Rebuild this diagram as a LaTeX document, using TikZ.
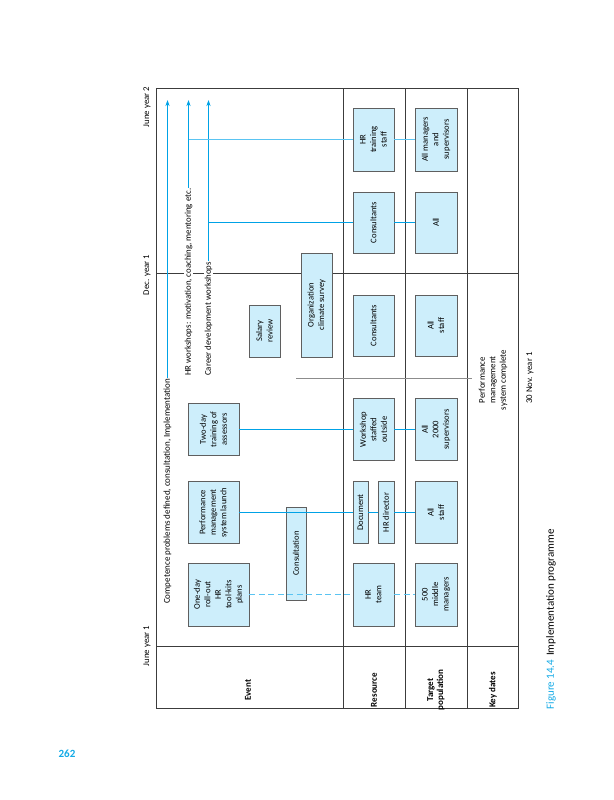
\documentclass[tikz,border=0pt]{standalone}
\usepackage{fontspec}
\setmainfont{Carlito}
\usetikzlibrary{arrows.meta}
\definecolor{lineblue}{RGB}{0,162,230}
\definecolor{lightblue}{RGB}{90,196,242}
\definecolor{boxfill}{RGB}{205,238,251}
\definecolor{boxedge}{RGB}{95,95,95}
\definecolor{tabline}{RGB}{60,60,60}
\definecolor{capblue}{RGB}{20,170,230}
\tikzset{
  box/.style={draw=boxedge, line width=0.9pt, fill=boxfill, rotate=90, inner sep=0pt,
    align=center, font=\fontsize{8.6}{10.5}\selectfont},
  lbl/.style={rotate=90, inner sep=1pt, font=\fontsize{8.8}{10.5}\selectfont},
  head/.style={rotate=90, align=center, font=\bfseries\fontsize{9}{10}\selectfont},
  conn/.style={lineblue, line width=1pt},
  dconn/.style={lightblue, line width=1.2pt, dash pattern=on 6pt off 3.5pt},
  arr/.style={lineblue, line width=1pt, -{Stealth[length=6pt,width=4pt]}},
  tab/.style={tabline, line width=0.8pt}
}
\begin{document}
\begin{tikzpicture}[x=1pt,y=-1pt]
\useasboundingbox (0,0) rectangle (613,800);
% table
\coordinate (tl) at (156,88);
\coordinate (br) at (518,708);
\draw[tab] (tl) rectangle (br);
\draw[tab] (343,88) -- (343,708);
\draw[tab] (405,88) -- (405,708);
\draw[tab] (467,88) -- (467,708);
\draw[tab] (156,646) -- (518,646);
\draw[tabline, line width=1.5pt] (156,273.5) -- (518,273.5);
\draw[gray!90, line width=0.7pt] (296,378.5) -- (472,378.5);
% header labels
\node[head] (hev) at (248,690) {Event};
\node[head] (hres) at (374,690) {Resource};
\node[head] (htar) at (436,690) {Target\\population};
\node[head] (hkey) at (493,690) {Key dates};
% time labels
\node[lbl] (jy1) at (147,646) {June year 1};
\node[lbl] (dy1) at (147,275) {Dec. year 1};
\node[lbl] (jy2) at (147,107) {June year 2};
\node[lbl] (nov) at (530,378) {30 Nov. year 1};
\node[lbl, align=center] (pmsc) at (493,380) {Performance\\management\\system complete};
% arrows with texts
\coordinate (a1) at (167.5,100);
\coordinate (a2) at (188.5,100);
\coordinate (a3) at (208.5,100);
\node[lbl, anchor=west, font=\fontsize{9}{10.5}\selectfont] (t1) at (167.5,605) {Competence problems defined, consultation, Implementation};
\node[lbl, anchor=west, fill=white] (t2) at (188.5,377) {HR workshops: motivation, coaching, mentoring etc.};
\node[lbl, anchor=west, fill=white] (t3) at (208.5,377) {Career development workshops};
\draw[arr] (t1.east) -- (a1);
\draw[arr] (t2.east) -- (a2);
\draw[arr] (t3.east) -- (a3);
\coordinate (b2) at (188.5,139.5);
\coordinate (b3) at (208.5,222.5);
% boxes (minimum width = extent along page y, minimum height = extent along page x)
\node[box, minimum width=63pt, minimum height=61pt] (oneday) at (218.5,594.5) {One-day\\roll-out\\HR\\tool-kits\\plans};
\node[box, minimum width=62pt, minimum height=51pt] (pmsl) at (213.5,512.5) {Performance\\management\\system launch};
\node[box, minimum width=52pt, minimum height=51pt] (twoday) at (213.5,429.5) {Two-day\\training of\\assessors};
\node[box, minimum width=93pt, minimum height=20pt] (consult) at (296,553.5) {Consultation};
\node[box, minimum width=52pt, minimum height=31pt] (salary) at (264.5,331) {Salary\\review};
\node[box, minimum width=104pt, minimum height=31pt] (orgclim) at (316.5,305) {Organization\\climate survey};
\node[box, minimum width=63pt, minimum height=41pt] (hrteam) at (373.5,594.5) {HR\\team};
\node[box, minimum width=62pt, minimum height=15pt] (document) at (360.5,512.5) {Document};
\node[box, minimum width=62pt, minimum height=16pt] (hrdir) at (386,512.5) {HR director};
\node[box, minimum width=62pt, minimum height=41pt] (workshop) at (373.5,429.5) {Workshop\\staffed\\outside};
\node[box, minimum width=61pt, minimum height=41pt] (consultL) at (373.5,325.5) {Consultants};
\node[box, minimum width=61pt, minimum height=41pt] (consultU) at (373.5,222.5) {Consultants};
\node[box, minimum width=63pt, minimum height=41pt] (hrtrain) at (373.5,139.5) {HR\\training\\staff};
\node[box, minimum width=63pt, minimum height=42pt] (mid500) at (436,594.5) {500\\middle\\managers};
\node[box, minimum width=62pt, minimum height=42pt] (allstaffL) at (436,512.5) {All\\staff};
\node[box, minimum width=62pt, minimum height=42pt] (all2000) at (436,429.5) {All\\2000\\supervisors};
\node[box, minimum width=61pt, minimum height=42pt] (allstaffU) at (436,325.5) {All\\staff};
\node[box, minimum width=61pt, minimum height=42pt] (allall) at (436,222.5) {All};
\node[box, minimum width=63pt, minimum height=42pt] (allmgr) at (436,139.5) {All managers\\and\\supervisors};
% connectors
\draw[dconn] (oneday.south) -- (hrteam.north);
\draw[dconn] (hrteam.south) -- (mid500.north);
\draw[conn] (pmsl.south) -- (document.north);
\draw[conn] (document.south) -- (hrdir.north);
\draw[conn] (hrdir.south) -- (allstaffL.north);
\draw[conn] (twoday.south) -- (workshop.north);
\draw[conn] (workshop.south) -- (all2000.north);
\draw[lightblue, line width=1.3pt] (b2) -- (b2 -| hrtrain.north);
\draw[lightblue, line width=1.3pt] (hrtrain.south) -- (allmgr.north);
\draw[conn] (b3) -- (b3 -| consultU.north);
\draw[conn] (consultU.south) -- (allall.north);
% caption and page number
\node[rotate=90, anchor=west, font=\fontsize{11}{13}\selectfont] (cap) at (551,713)
  {\textcolor{capblue}{Figure 14.4}\hspace{4pt}Implementation programme};
\node[font=\bfseries\fontsize{11}{13}\selectfont, text=capblue] (pg) at (67,754) {262};
\end{tikzpicture}
\end{document}
